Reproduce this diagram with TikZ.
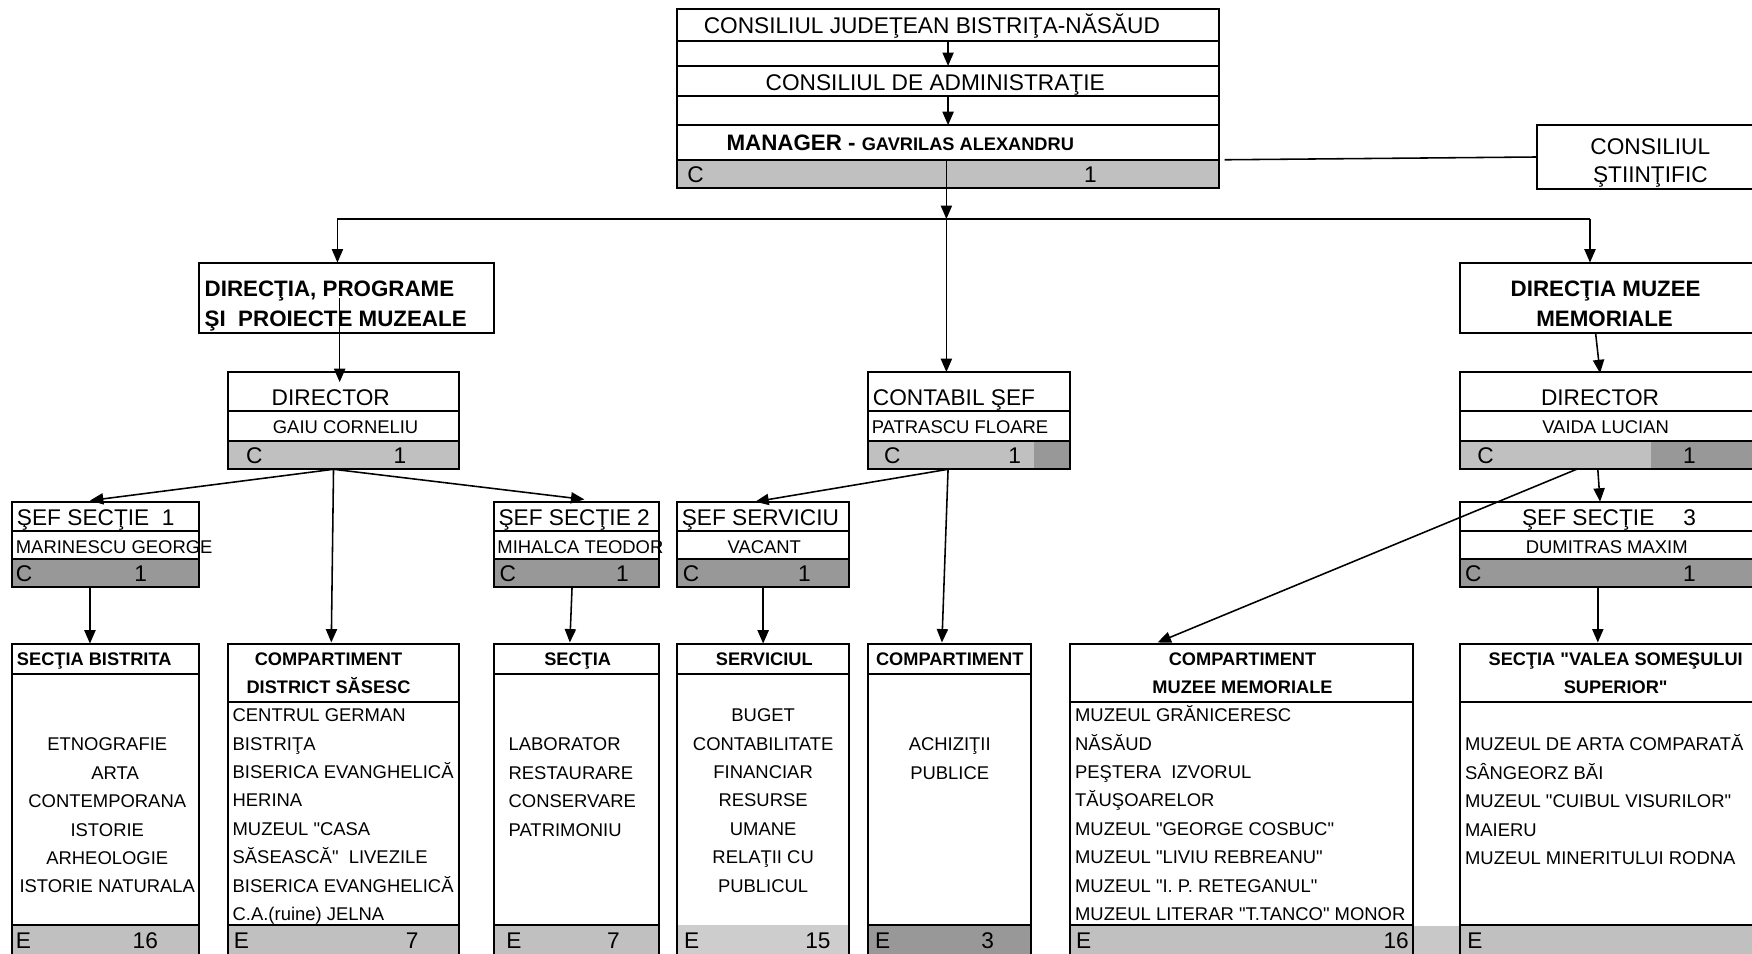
\documentclass[tikz,border=0pt]{standalone}
\usepackage{fontspec}
\setmainfont{Liberation Sans}[Ligatures=TeXOff]
\usetikzlibrary{arrows.meta,calc}
\definecolor{lg}{RGB}{192,192,192}
\definecolor{lgs}{RGB}{205,205,205}
\definecolor{lgb}{RGB}{200,200,200}
\definecolor{dg}{RGB}{152,152,152}
\newcommand{\mycell}[6][white]{\node[cell, fill=#1, minimum width={#5-#3}, minimum height={#6-#4}] (#2) at ({(#3+#5)/2},{(#4+#6)/2}) {};}
\newcommand{\txtlist}[6]{\foreach \itm [count=\i] in {#6} {\node[#2, anchor=#3] (#1-\i) at (#4, {#5+25.4*(\i-1)}) {\itm};}}
\begin{document}
\begin{tikzpicture}[x=1pt,y=-1pt,
  cell/.style={draw, line width=1.8pt, rectangle, inner sep=0pt, outer sep=0pt},
  conn/.style={line width=1.4pt, -{Triangle[length=12pt,width=10pt]}},
  plain/.style={line width=1.4pt},
  t20/.style={font=\fontsize{20.3}{24}\selectfont, inner sep=0pt},
  t16/.style={font=\fontsize{16.5}{20}\selectfont, inner sep=0pt},
  b16/.style={font=\fontsize{16.3}{20}\selectfont\bfseries, inner sep=0pt},
  b20/.style={font=\fontsize{20}{24}\selectfont\bfseries, inner sep=0pt}]
\useasboundingbox (0,0) rectangle (1568,853);
\clip (0,0) rectangle (1568,853);

% ---------- top block ----------
\mycell{cj}{606}{8}{1091}{37}
\mycell{cjg}{606}{37}{1091}{59}
\mycell{ca}{606}{59}{1091}{86}
\mycell{cag}{606}{86}{1091}{112}
\mycell{man}{606}{112}{1091}{143}
\mycell[lg]{manc}{606}{143}{1091}{168}
\node[t20, anchor=base] (cjt) at (834,30) {CONSILIUL JUDEŢEAN BISTRIŢA-NĂSĂUD};
\node[t20, anchor=base] (cat) at (837,81) {CONSILIUL DE ADMINISTRAŢIE};
\node[b20, anchor=base west] (mant) at (650,135) {MANAGER - {\fontsize{16.3}{20}\selectfont GAVRILAS ALEXANDRU}};
\node[t20, anchor=base west] (manC) at (615,163) {C};
\node[t20, anchor=base] (man1) at (976,163) {1};
\draw[conn] (cj.south) -- (ca.north);
\draw[conn] (ca.south) -- (man.north);

% consiliul stiintific
\mycell{cs}{1376}{112}{1600}{169}
\node[t20, anchor=base] (cs1) at (1477,138) {CONSILIUL};
\node[t20, anchor=base] (cs2) at (1477,163) {ŞTIINŢIFIC};
\draw[plain] ($(manc.north east)+(5,0)$) -- (cs.west);

% bus
\coordinate (bus) at ($(manc.north)+(-1.5,53)$);
\coordinate (busL) at (302,196);
\coordinate (busR) at (1423,196);
\draw[conn] (manc.north -| bus) -- (bus);
\draw[plain] (busL) -- (busR);

% ---------- left direction ----------
\mycell{dirP}{178}{235}{442}{298}
\node[b20, anchor=base west] (dirP1) at (183,265) {DIRECŢIA, PROGRAME};
\node[b20, anchor=base west] (dirP2) at (183,292) {ŞI\ \ PROIECTE MUZEALE};
\draw[conn] (busL) -- (busL |- dirP.north);

\mycell{dirL}{204}{333}{411}{368}
\mycell{dirLn}{204}{368}{411}{395}
\mycell[lg]{dirLc}{204}{395}{411}{420}
\node[t20, anchor=base west] (dirLt) at (243,363) {DIRECTOR};
\node[t16, anchor=base west] (dirLnt) at (244,388) {GAIU CORNELIU};
\node[t20, anchor=base west] (dirLC) at (220,415) {C};
\node[t20, anchor=base] (dirL1) at (358,415) {1};
\draw[conn] ($(dirP.center)+(-6,0)$) -- ($(dirL.north)+(-3.5,9)$);

% sef sectie 1
\mycell{sef1}{11}{449}{178}{475}
\mycell{sef1n}{11}{475}{178}{500}
\mycell[dg]{sef1c}{11}{500}{178}{525}
\node[t20, anchor=base west] (sef1t) at (15,470) {ŞEF SECŢIE\ \ 1};
\node[t16, anchor=base west] (sef1nt) at (14,495) {MARINESCU GEORGE};
\node[t20, anchor=base west] (sef1C) at (14,520) {C};
\node[t20, anchor=base] (sef11) at (126,520) {1};

% sef sectie 2
\mycell{sef2}{442}{449}{590}{475}
\mycell{sef2n}{442}{475}{590}{500}
\mycell[dg]{sef2c}{442}{500}{590}{525}
\node[t20, anchor=base west] (sef2t) at (446,470) {ŞEF SECŢIE 2};
\node[t16, anchor=base west] (sef2nt) at (445,495) {MIHALCA TEODOR};
\node[t20, anchor=base west] (sef2C) at (447,520) {C};
\node[t20, anchor=base] (sef21) at (557,520) {1};

\coordinate (dirLo) at ($(dirLc.south)+(-9,0)$);
\draw[conn] (dirLo) -- ($(sef1.north)+(-14,-1)$);
\draw[conn] (dirLo) -- ($(sef2.north)+(7,-2)$);

% ---------- contabil ----------
\mycell{cf}{777}{333}{958}{368}
\mycell{cfn}{777}{368}{958}{395}
\mycell[lg]{cfc}{777}{395}{958}{420}
\fill[dg] (925,395) rectangle (958,420);
\draw[line width=1.8pt] (cfc.north west) rectangle (cfc.south east);
\node[t20, anchor=base west] (cft) at (781,363) {CONTABIL ŞEF};
\node[t16, anchor=base west] (cfnt) at (780,388) {PATRASCU FLOARE};
\node[t20, anchor=base west] (cfC) at (791,415) {C};
\node[t20, anchor=base] (cf1) at (908,415) {1};
\draw[conn] (bus) -- (bus |- cf.north);

\mycell{sefS}{606}{449}{760}{475}
\mycell{sefSn}{606}{475}{760}{500}
\mycell[dg]{sefSc}{606}{500}{760}{525}
\node[t20, anchor=base west] (sefSt) at (610,470) {ŞEF SERVICIU};
\node[t16, anchor=base] (sefSnt) at (684,495) {VACANT};
\node[t20, anchor=base west] (sefSC) at (611,520) {C};
\node[t20, anchor=base] (sefS1) at (720,520) {1};

\coordinate (cfo) at ($(cfc.south)+(-19,0)$);
\draw[conn] (cfo) -- ($(sefS.north)+(-7,0)$);

% ---------- right direction ----------
\mycell{dirM}{1307}{235}{1572}{298}
\node[b20, anchor=base] (dirM1) at (1437,265) {DIRECŢIA MUZEE};
\node[b20, anchor=base] (dirM2) at (1436,292) {MEMORIALE};
\draw[conn] (busR) -- (busR |- dirM.north);

\mycell{dirR}{1307}{333}{1572}{368}
\mycell{dirRn}{1307}{368}{1572}{395}
\mycell[lg]{dirRc}{1307}{395}{1572}{420}
\fill[dg] (1478,395) rectangle (1572,420);
\draw[line width=1.8pt] (dirRc.north west) rectangle (dirRc.south east);
\node[t20, anchor=base] (dirRt) at (1432,363) {DIRECTOR};
\node[t16, anchor=base] (dirRnt) at (1437,388) {VAIDA LUCIAN};
\node[t20, anchor=base west] (dirRC) at (1322,415) {C};
\node[t20, anchor=base] (dirR1) at (1512,415) {1};
\draw[conn] ($(dirM.south)+(-11.5,0)$) -- ($(dirR.north)+(-7.5,1)$);

\mycell{sef3}{1307}{449}{1572}{475}
\mycell{sef3n}{1307}{475}{1572}{500}
\mycell[dg]{sef3c}{1307}{500}{1572}{525}
\node[t20, anchor=base west] (sef3t) at (1362,470) {ŞEF SECŢIE\hspace{26pt}3};
\node[t16, anchor=base] (sef3nt) at (1438,495) {DUMITRAS MAXIM};
\node[t20, anchor=base west] (sef3C) at (1311,520) {C};
\node[t20, anchor=base] (sef31) at (1512,520) {1};
\draw[conn] ($(dirRc.south)+(-9.5,0)$) -- ($(sef3.north)+(-7.5,0)$);

% ---------- bottom row ----------
\fill[lgb] (1265,829) rectangle (1307,870);

% sectia bistrita
\mycell{secB}{11}{576}{178}{870}
\mycell{secBh}{11}{576}{178}{603}
\mycell[lg]{secBe}{11}{828}{178}{870}
\node[b16, anchor=base west] (secBt) at (15,596) {SECŢIA BISTRITA};
\txtlist{secBl}{t16}{base}{96}{672}{ETNOGRAFIE,\hspace*{14pt}ARTA,CONTEMPORANA,ISTORIE,ARHEOLOGIE,ISTORIE NATURALA}
\node[t20, anchor=base west] (secBE) at (14,849) {E};
\node[t20, anchor=base] (secBn) at (130,849) {16};
\draw[conn] ($(sef1c.south)+(-14,0)$) -- ($(secB.north)+(-14,0)$);

% compartiment district sasesc
\mycell{cds}{204}{576}{411}{870}
\mycell{cdsh}{204}{576}{411}{628}
\mycell[lg]{cdse}{204}{828}{411}{870}
\node[b16, anchor=base] (cdst1) at (294,596) {COMPARTIMENT};
\node[b16, anchor=base] (cdst2) at (294,621) {DISTRICT SĂSESC};
\txtlist{cdsl}{t16}{base west}{208}{646}{CENTRUL GERMAN,BISTRIŢA,BISERICA EVANGHELICĂ,HERINA,MUZEUL "CASA,SĂSEASCĂ"\ \ LIVEZILE,BISERICA EVANGHELICĂ,C.A.(ruine) JELNA}
\node[t20, anchor=base west] (cdsE) at (209,849) {E};
\node[t20, anchor=base] (cdsn) at (369,849) {7};
\draw[conn] (dirLo) -- ($(cds.north)+(-11,-1)$);

% sectia laborator
\mycell{secL}{442}{576}{590}{870}
\mycell{secLh}{442}{576}{590}{603}
\mycell[lg]{secLe}{442}{828}{590}{870}
\node[b16, anchor=base] (secLt) at (517,596) {SECŢIA};
\txtlist{secLl}{t16}{base west}{455}{672}{LABORATOR,RESTAURARE,CONSERVARE,PATRIMONIU}
\node[t20, anchor=base west] (secLE) at (453,849) {E};
\node[t20, anchor=base] (secLn) at (549,849) {7};
\draw[conn] ($(sef2c.south)+(-4,0)$) -- ($(secL.north)+(-6,-1)$);

% serviciul
\mycell{serv}{606}{576}{760}{870}
\mycell{servh}{606}{576}{760}{603}
\node[fill=lgs, draw=none, inner sep=0pt, outer sep=0pt, minimum width=154, minimum height=42] (serve) at (683,849) {};
\draw[line width=1.8pt] (serv.north west) rectangle (serv.south east);
\node[b16, anchor=base] (servt) at (684,596) {SERVICIUL};
\txtlist{servl}{t16}{base}{683}{646}{BUGET,CONTABILITATE,FINANCIAR,RESURSE,UMANE,RELAŢII CU,PUBLICUL}
\node[t20, anchor=base west] (servE) at (612,849) {E};
\node[t20, anchor=base] (servn) at (732,849) {15};
\draw[conn] (sefSc.south) -- (serv.north);

% compartiment achizitii
\mycell{comp}{777}{576}{923}{870}
\mycell{comph}{777}{576}{923}{603}
\mycell[dg]{compe}{777}{828}{923}{870}
\node[b16, anchor=base] (compt) at (850,596) {COMPARTIMENT};
\txtlist{compl}{t16}{base}{850}{672}{ACHIZIŢII,PUBLICE}
\node[t20, anchor=base west] (compE) at (783,849) {E};
\node[t20, anchor=base] (compn) at (884,849) {3};
\draw[conn] (cfo) -- ($(comp.north)+(-7,-1)$);

% compartiment muzee memoriale
\mycell{muz}{958}{576}{1265}{870}
\mycell{muzh}{958}{576}{1265}{628}
\mycell[lg]{muze}{958}{828}{1265}{870}
\node[b16, anchor=base] (muzt1) at (1112,596) {COMPARTIMENT};
\node[b16, anchor=base] (muzt2) at (1112,621) {MUZEE MEMORIALE};
\txtlist{muzl}{t16}{base west}{962}{646}{MUZEUL GRĂNICERESC,NĂSĂUD,PEŞTERA\ \ IZVORUL,TĂUŞOARELOR,MUZEUL "GEORGE COSBUC",MUZEUL "LIVIU REBREANU",MUZEUL "I. P. RETEGANUL",MUZEUL LITERAR "T.TANCO" MONOR}
\node[t20, anchor=base west] (muzE) at (963,849) {E};
\node[t20, anchor=base east] (muzn) at (1261,849) {16};
\draw[conn] ($(dirRc.south)+(-28.5,0)$) -- ($(muz.north)+(-75.5,-1)$);

% sectia valea somesului superior
\mycell{sv}{1307}{576}{1572}{870}
\mycell{svh}{1307}{576}{1572}{628}
\mycell[lg]{sve}{1307}{828}{1572}{870}
\node[b16, anchor=base] (svt1) at (1446,596) {SECŢIA "VALEA SOMEŞULUI};
\node[b16, anchor=base] (svt2) at (1446,621) {SUPERIOR"};
\txtlist{svl}{t16}{base west}{1311}{672}{MUZEUL DE ARTA COMPARATĂ,SÂNGEORZ BĂI,MUZEUL "CUIBUL VISURILOR",MAIERU,MUZEUL MINERITULUI RODNA}
\node[t20, anchor=base west] (svE) at (1313,849) {E};
\draw[conn] ($(sef3c.south)+(-9.5,0)$) -- ($(sv.north)+(-9.5,-1)$);
\end{tikzpicture}
\end{document}
